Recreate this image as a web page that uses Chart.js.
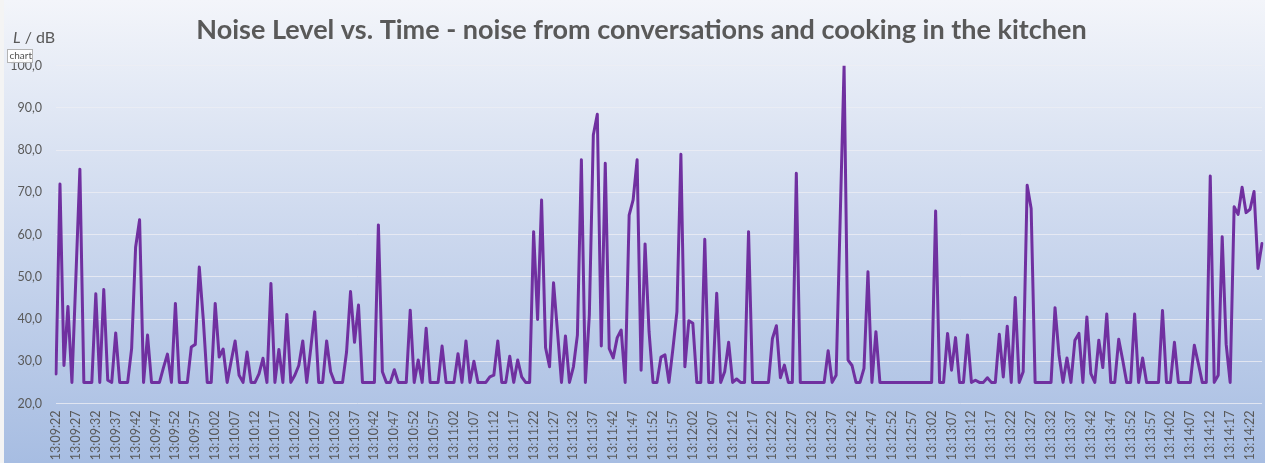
<!DOCTYPE html>
<html>
<head>
<meta charset="utf-8">
<title>Noise Level vs. Time</title>
<script src="https://cdn.jsdelivr.net/npm/chart.js@4.4.1/dist/chart.umd.min.js"></script>
<style>
  html, body { margin: 0; padding: 0; background: #ffffff; }
  #wrap { position: relative; width: 1265px; height: 463px; }
</style>
</head>
<body>
<div id="wrap"><canvas id="noiseChart"></canvas></div>
<script>
// Sound level in dB, one reading per second starting at 13:09:22
const noiseLevel = [
  27, 72, 29, 43, 25, 50, 75.5, 25, 25, 25,
  46, 25, 47, 25.5, 25, 36.7, 25, 25, 25, 33,
  57, 63.5, 25, 36.2, 25, 25, 25, 28.5, 31.7, 25,
  43.7, 25, 25, 25, 33.4, 34, 52.3, 40, 25, 25,
  43.7, 31, 32.9, 25, 30, 34.8, 26.7, 25, 32.2, 25,
  25, 27, 30.7, 25, 48.4, 25, 32.8, 25, 41.1, 25,
  26.7, 29, 34.8, 25, 33, 41.7, 25, 25, 34.8, 27.5,
  25, 25, 25, 32.2, 46.5, 34.5, 43.3, 25, 25, 25,
  25, 62.3, 27.5, 25, 25, 28, 25, 25, 25, 42.1,
  25, 30.3, 25, 37.8, 25, 25, 25, 33.6, 25, 25,
  25, 31.8, 25, 34.8, 25, 30, 25, 25, 25, 26.3,
  26.7, 34.8, 25, 25, 31.2, 25, 30.3, 26.3, 25, 25,
  60.7, 39.9, 68.2, 33.2, 28.7, 48.6, 37, 25, 36, 25,
  28.7, 36.2, 77.7, 25, 41, 83.6, 88.5, 33.6, 76.9, 33,
  30.8, 35.6, 37.4, 25, 64.6, 68.2, 77.7, 27.9, 57.8, 37,
  25, 25, 31, 31.5, 25, 33, 41.7, 79, 28.7, 39.6,
  39, 25, 25, 58.9, 25, 25, 46.1, 25, 27.5, 34.5,
  25, 25.8, 25, 25, 60.7, 25, 25, 25, 25, 25,
  35.4, 38.4, 26.1, 29.1, 25, 25, 74.5, 25, 25, 25,
  25, 25, 25, 25, 32.5, 25, 26.7, 63, 100, 30.3,
  29, 25, 25, 28.3, 51.2, 25, 37, 25, 25, 25,
  25, 25, 25, 25, 25, 25, 25, 25, 25, 25,
  25, 65.6, 25, 25, 36.6, 27.9, 35.6, 25, 25, 36.2,
  25, 25.5, 25, 25, 26.1, 25, 25, 36.4, 26.3, 38.3,
  25, 45.1, 25, 27.5, 71.7, 66.2, 25, 25, 25, 25,
  25, 42.7, 31.5, 25, 30.8, 25, 35, 36.6, 25, 40.5,
  27.1, 25, 35, 28.5, 41.2, 25, 25, 35.2, 30.3, 25,
  25, 41.2, 25, 30.8, 25, 25, 25, 25, 42, 25,
  25, 34.5, 25, 25, 25, 25, 33.8, 29.5, 25, 25,
  73.9, 25, 26.7, 59.5, 34, 25, 66.6, 64.8, 71.2, 65.2,
  66, 70.2, 52, 57.9
];

// Time stamps (hh:mm:ss), one per reading
const startTime = [13, 9, 22];
const timeLabels = noiseLevel.map((_, i) => {
  const t = startTime[0] * 3600 + startTime[1] * 60 + startTime[2] + i;
  const hh = Math.floor(t / 3600), mm = Math.floor(t / 60) % 60, ss = t % 60;
  return [hh, mm, ss].map(n => String(n).padStart(2, '0')).join(':');
});

// Only every fifth time stamp is printed under the axis
const labelEvery = 5;

// Level axis: 20,0 ... 100,0 dB
const yMin = 20, yMax = 100, yStep = 10;

const titleText = 'Noise Level vs. Time - noise from conversations and cooking in the kitchen';
const textGrey = '#595959';

// Blue gradient backdrop behind the whole chart
const backdrop = {
  id: 'backdrop',
  beforeDraw(chart) {
    const { ctx, width, height } = chart;
    ctx.save();
    ctx.fillStyle = '#f4f4f4';
    ctx.fillRect(0, 0, width, height);
    const g = ctx.createLinearGradient(0, 0, 0, height);
    g.addColorStop(0, '#f3f5fa');
    g.addColorStop(0.5, '#ccd8ee');
    g.addColorStop(1, '#a7bde2');
    ctx.fillStyle = g;
    ctx.fillRect(4, 0, width - 4, height);
    ctx.restore();
  }
};

// Chart heading, axis unit "L / dB" and the small "chart" name tag
const annotations = {
  id: 'annotations',
  afterDraw(chart) {
    const { ctx } = chart;
    ctx.save();

    // heading
    ctx.fillStyle = textGrey;
    ctx.textAlign = 'center';
    ctx.textBaseline = 'middle';
    ctx.font = 'bold 27px Lato';
    ctx.fillText(titleText, 641.5, 30.2);

    // unit of the level axis
    ctx.textBaseline = 'alphabetic';
    ctx.textAlign = 'left';
    ctx.font = 'italic 16px Lato';
    ctx.fillText('L', 13, 43);
    const w = ctx.measureText('L').width;
    ctx.font = '16px Lato';
    ctx.fillText(' / dB', 13 + w, 43);

    // name tag
    ctx.fillStyle = 'rgba(255,255,255,0.92)';
    ctx.strokeStyle = '#b4b4b4';
    ctx.lineWidth = 1;
    ctx.fillRect(7.5, 49.5, 25, 13);
    ctx.strokeRect(7.5, 49.5, 25, 13);
    ctx.fillStyle = '#505050';
    ctx.font = '10px Lato';
    ctx.textBaseline = 'middle';
    ctx.fillText('chart', 9.5, 56);
    ctx.restore();
  }
};

new Chart(document.getElementById('noiseChart'), {
  type: 'line',
  data: {
    labels: timeLabels,
    datasets: [{
      label: 'L',
      data: noiseLevel,
      borderColor: '#7030a0',
      borderWidth: 3,
      borderJoinStyle: 'round',
      borderCapStyle: 'round',
      pointRadius: 0,
      pointHoverRadius: 0,
      tension: 0,
      fill: false
    }]
  },
  options: {
    responsive: true,
    maintainAspectRatio: false,
    animation: false,
    devicePixelRatio: 1,
    layout: { padding: { left: 0, right: 3, top: 65.7, bottom: 0 } },
    plugins: {
      legend: { display: false },
      tooltip: { enabled: false },
      title: { display: false }
    },
    scales: {
      x: {
        grid: { display: false, drawTicks: false },
        border: { display: false },
        ticks: {
          autoSkip: false,
          minRotation: 90,
          maxRotation: 90,
          padding: 7,
          color: textGrey,
          font: { family: 'Lato', size: 12.5 },
          callback: (value, index) => index % labelEvery === 0 ? timeLabels[index] : ''
        },
        afterFit: scale => {
          scale.height = 59.5;
          scale.paddingLeft = 0;
          scale.paddingRight = 0;
        }
      },
      y: {
        min: yMin,
        max: yMax,
        grid: { color: 'rgba(236,238,244,0.8)', lineWidth: 1, drawTicks: false },
        border: { display: false },
        ticks: {
          stepSize: yStep,
          padding: 14,
          color: textGrey,
          font: { family: 'Lato', size: 12.5 },
          callback: v => v.toFixed(1).replace('.', ',')
        },
        afterFit: scale => {
          scale.width = 56;
          scale.paddingTop = 0;
          scale.paddingBottom = 0;
        }
      }
    }
  },
  plugins: [backdrop, annotations]
});
</script>
</body>
</html>
